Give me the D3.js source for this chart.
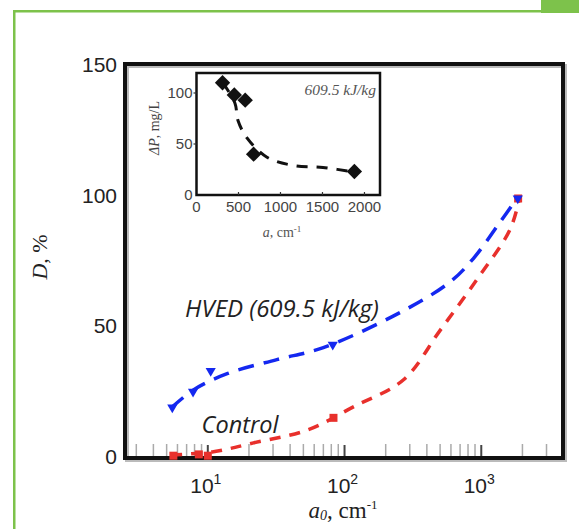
<!DOCTYPE html>
<html>
<head>
<meta charset="utf-8">
<script src="https://cdn.jsdelivr.net/npm/d3@7"></script>
<style>
  body { margin: 0; background: #fff; }
  svg { display: block; }
  .sans { font-family: "Liberation Sans", Arial, sans-serif; }
  .serif { font-family: "Liberation Serif", "Times New Roman", serif; }
</style>
</head>
<body>
<svg id="chart" width="579" height="529"></svg>
<script>
// main chart data
const hvedA = [5.5, 7.8, 10.5, 82, 1850]
const hvedD = [19, 25, 33, 43, 99]
const ctrlA = [5.6, 8.6, 10, 83, 1860]
const ctrlD = [0.5, 1, 0.5, 15, 99]

// fitted dashed curves
const hvedFitA = [5.4, 7.9, 14, 32, 70, 256, 590, 875, 1375, 1850]
const hvedFitD = [18.8, 25.8, 32, 37.3, 41.9, 55.4, 67, 76, 90, 99.5]
const ctrlFitA = [5.4, 11, 21.6, 54, 116, 270, 500, 930, 1620, 1900]
const ctrlFitD = [0.8, 2, 5.4, 10.4, 19.2, 29.6, 48.5, 68, 87, 99]

const yTicks = [0, 50, 100, 150]
const xMajor = [10, 100, 1000]

// inset data
const insetA = [310, 450, 580, 680, 1880]
const insetP = [110, 98, 93, 40, 23]
const insetFitA = [315, 458, 494, 601, 839, 1149, 1506, 1911]
const insetFitP = [110, 90, 73, 56, 37, 29, 27, 22]
const insetXTicks = [0, 500, 1000, 1500, 2000]
const insetYTicks = [0, 50, 100]

const svg = d3.select("#chart")

//
// green page decoration
//
const green = "#7dc24b"
svg.append("rect").attr("x", 13).attr("y", 10).attr("width", 528).attr("height", 2.5).attr("fill", green)
svg.append("rect").attr("x", 13).attr("y", 10).attr("width", 2.5).attr("height", 519).attr("fill", green)
svg.append("rect").attr("x", 541).attr("y", 0).attr("width", 38).attr("height", 13).attr("fill", green)

//
// main plot
//
const pLeft = 125, pRight = 563, pTop = 64, pBottom = 458

const x = d3.scaleLog().domain([2.48, 3960]).range([pLeft, pRight])
const y = d3.scaleLinear().domain([0, 150.5]).range([457, pTop])

// minor + major ticks on bottom, pointing in
const allTicks = x.ticks().filter(v => v > 2.6)
svg.append("g").selectAll("line")
  .data(allTicks)
  .enter().append("line")
    .attr("x1", d => x(d)).attr("x2", d => x(d))
    .attr("y1", pBottom).attr("y2", d => xMajor.includes(d) ? pBottom - 13 : pBottom - 14)
    .attr("stroke", d => xMajor.includes(d) ? "#444" : "#aaa")
    .attr("stroke-width", d => xMajor.includes(d) ? 2 : 1.5)

// frame shadow and frame
svg.append("rect")
  .attr("x", pLeft + 2).attr("y", pTop + 2).attr("width", pRight - pLeft).attr("height", pBottom - pTop)
  .attr("fill", "none").attr("stroke", "#bbb").attr("stroke-width", 4)
svg.append("rect")
  .attr("x", pLeft).attr("y", pTop).attr("width", pRight - pLeft).attr("height", pBottom - pTop)
  .attr("fill", "none").attr("stroke", "#111").attr("stroke-width", 4)

// y tick labels
svg.append("g").selectAll("text")
  .data(yTicks)
  .enter().append("text")
    .attr("class", "sans")
    .attr("x", 117).attr("y", d => y(d) + 7)
    .attr("text-anchor", "end")
    .attr("font-size", 21)
    .attr("fill", "#222")
    .text(d => d)

// x tick labels with superscripts
const xl = svg.append("g").selectAll("text")
  .data(xMajor)
  .enter().append("text")
    .attr("class", "sans")
    .attr("x", d => x(d) - 2).attr("y", 493)
    .attr("text-anchor", "middle")
    .attr("font-size", 21)
    .attr("fill", "#222")
xl.append("tspan").text("10")
xl.append("tspan").attr("font-size", 14).attr("dy", -9).text(d => Math.round(Math.log10(d)))

// axis titles
const xt = svg.append("text")
  .attr("class", "serif")
  .attr("x", 343).attr("y", 518)
  .attr("text-anchor", "middle")
  .attr("font-size", 23)
  .attr("fill", "#222")
xt.append("tspan").attr("font-style", "italic").text("a")
xt.append("tspan").attr("font-style", "italic").attr("font-size", 14).attr("dy", 2).text("0")
xt.append("tspan").attr("dy", -2).text(", cm")
xt.append("tspan").attr("font-size", 13).attr("dy", -9).text("-1")

const yt = svg.append("text")
  .attr("class", "serif")
  .attr("transform", "translate(47,257) rotate(-90)")
  .attr("text-anchor", "middle")
  .attr("font-size", 22)
  .attr("fill", "#222")
yt.append("tspan").attr("font-style", "italic").text("D")
yt.append("tspan").text(", %")

// curves
const line = d3.line()
  .x(d => x(d[0]))
  .y(d => y(d[1]))
  .curve(d3.curveCatmullRom)

svg.append("path")
  .datum(d3.zip(ctrlFitA, ctrlFitD))
  .attr("d", line)
  .attr("fill", "none")
  .attr("stroke", "#e8302c")
  .attr("stroke-width", 3.5)
  .attr("stroke-dasharray", "11,9")

svg.append("path")
  .datum(d3.zip(hvedFitA, hvedFitD))
  .attr("d", line)
  .attr("fill", "none")
  .attr("stroke", "#1428f0")
  .attr("stroke-width", 3.5)
  .attr("stroke-dasharray", "16,10")

// markers
svg.append("g").selectAll("rect")
  .data(d3.zip(ctrlA, ctrlD))
  .enter().append("rect")
    .attr("x", d => x(d[0]) - 4).attr("y", d => y(d[1]) - 4)
    .attr("width", 8).attr("height", 8)
    .attr("fill", "#e8302c")

svg.append("g").selectAll("path")
  .data(d3.zip(hvedA, hvedD))
  .enter().append("path")
    .attr("transform", d => "translate(" + x(d[0]) + "," + y(d[1]) + ") rotate(180)")
    .attr("d", d3.symbol(d3.symbolTriangle, 45))
    .attr("fill", "#1428f0")

// series labels
svg.append("text")
  .attr("x", 282).attr("y", 317)
  .attr("text-anchor", "middle")
  .attr("font-family", "'Open Sans', Lato, sans-serif")
  .attr("font-style", "italic")
  .attr("font-size", 24)
  .attr("fill", "#222")
  .text("HVED (609.5 kJ/kg)")

svg.append("text")
  .attr("x", 240).attr("y", 433)
  .attr("text-anchor", "middle")
  .attr("font-family", "'Open Sans', Lato, sans-serif")
  .attr("font-style", "italic")
  .attr("font-size", 23.5)
  .attr("fill", "#222")
  .text("Control")

//
// inset
//
const il = 196.5, ir = 380, it = 73, ib = 195
const ix = d3.scaleLinear().domain([0, 2185]).range([il, ir])
const iy = d3.scaleLinear().domain([0, 119.6]).range([ib, it])

const inset = svg.append("g")

inset.append("rect")
  .attr("x", il).attr("y", it).attr("width", ir - il).attr("height", ib - it)
  .attr("fill", "#fff").attr("stroke", "#111").attr("stroke-width", 2.5)

inset.append("g").selectAll("line")
  .data(insetXTicks.slice(1))
  .enter().append("line")
    .attr("x1", d => ix(d)).attr("x2", d => ix(d))
    .attr("y1", ib).attr("y2", ib - 3)
    .attr("stroke", "#333").attr("stroke-width", 1.2)

inset.append("g").selectAll("line")
  .data(insetYTicks.slice(1))
  .enter().append("line")
    .attr("x1", il - 3).attr("x2", il)
    .attr("y1", d => iy(d)).attr("y2", d => iy(d))
    .attr("stroke", "#333").attr("stroke-width", 1.2)

inset.append("g").selectAll("text")
  .data(insetXTicks)
  .enter().append("text")
    .attr("class", "sans")
    .attr("x", d => ix(d)).attr("y", ib + 17)
    .attr("text-anchor", "middle")
    .attr("font-size", 15)
    .attr("fill", "#444")
    .text(d => d)

inset.append("g").selectAll("text")
  .data(insetYTicks)
  .enter().append("text")
    .attr("class", "sans")
    .attr("x", il - 4).attr("y", d => iy(d) + 5)
    .attr("text-anchor", "end")
    .attr("font-size", 15)
    .attr("fill", "#444")
    .text(d => d)

const ixt = inset.append("text")
  .attr("class", "serif")
  .attr("x", 282).attr("y", 237)
  .attr("text-anchor", "middle")
  .attr("font-size", 14)
  .attr("fill", "#555")
ixt.append("tspan").attr("font-style", "italic").text("a")
ixt.append("tspan").text(", cm")
ixt.append("tspan").attr("font-size", 9).attr("dy", -5).text("-1")

const iyt = inset.append("text")
  .attr("class", "serif")
  .attr("transform", "translate(159,128) rotate(-90)")
  .attr("text-anchor", "middle")
  .attr("font-size", 14)
  .attr("fill", "#444")
iyt.append("tspan").attr("font-style", "italic").text("ΔP")
iyt.append("tspan").text(", mg/L")

inset.append("text")
  .attr("class", "serif")
  .attr("x", 376).attr("y", 95)
  .attr("text-anchor", "end")
  .attr("font-style", "italic")
  .attr("font-size", 15.5)
  .attr("fill", "#555")
  .text("609.5 kJ/kg")

const iline = d3.line()
  .x(d => ix(d[0]))
  .y(d => iy(d[1]))
  .curve(d3.curveCatmullRom)

inset.append("path")
  .datum(d3.zip(insetFitA, insetFitP))
  .attr("d", iline)
  .attr("fill", "none")
  .attr("stroke", "#111")
  .attr("stroke-width", 3)
  .attr("stroke-dasharray", "11,9")

inset.append("g").selectAll("path")
  .data(d3.zip(insetA, insetP))
  .enter().append("path")
    .attr("transform", d => "translate(" + ix(d[0]) + "," + iy(d[1]) + ")")
    .attr("d", d3.symbol(d3.symbolDiamond2, 150))
    .attr("fill", "#111")
</script>
</body>
</html>
